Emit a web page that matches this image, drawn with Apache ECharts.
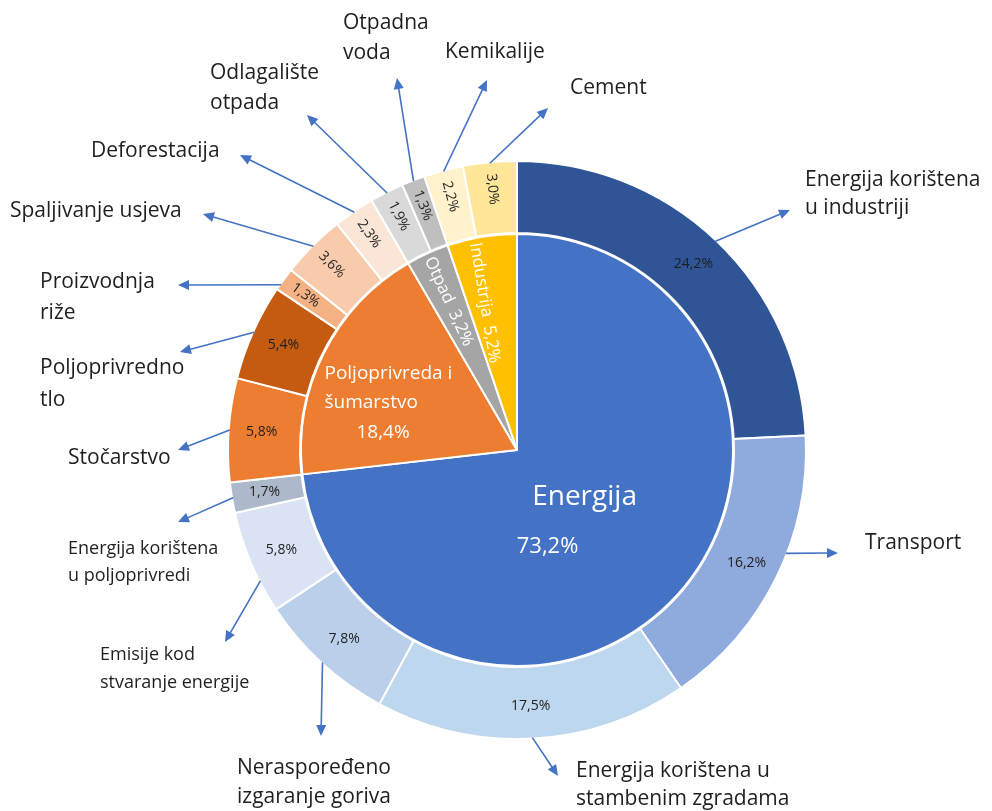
<!DOCTYPE html>
<html><head><meta charset="utf-8">
<script src="https://cdn.jsdelivr.net/npm/echarts@6/dist/echarts.min.js"></script>
<style>html,body{margin:0;padding:0;background:#fff}#c{width:992px;height:811px}</style>
</head><body><div id="c"></div>
<script>
// ---------------- data ----------------
const mainNames = ['Energija', 'Poljoprivreda i šumarstvo', 'Otpad', 'Industrija'];
const mainValues = [73.2, 18.4, 3.2, 5.2];

const subNames = [
  'Energija korištena\nu industriji', 'Transport', 'Energija korištena u\nstambenim zgradama',
  'Neraspoređeno\nizgaranje goriva', 'Emisije kod\nstvaranje energije', 'Energija korištena\nu poljoprivredi',
  'Stočarstvo', 'Poljoprivredno\ntlo', 'Proizvodnja\nriže', 'Spaljivanje usjeva', 'Deforestacija',
  'Odlagalište\notpada', 'Otpadna\nvoda', 'Kemikalije', 'Cement'
];
const subValues = [24.2, 16.2, 17.5, 7.8, 5.8, 1.7, 5.8, 5.4, 1.3, 3.6, 2.3, 1.9, 1.3, 2.2, 3.0];

// ---------------- styles / layout ----------------
const mainColors = ['#4472C4', '#ED7D31', '#A5A5A5', '#FFC000'];
const subColors = ['#2F5597', '#8FAADC', '#BDD7EE', '#B9CFEA', '#DAE3F3', '#ADB9CA',
  '#ED7D31', '#C55A11', '#F4B183', '#F8CBAD', '#FBE5D6', '#D9D9D9', '#BFBFBF', '#FFF2CC', '#FFE699'];
const subRadial = [false, false, false, false, false, false, false, false, true, true, true, true, true, true, true];
const mainRadial = [false, false, true, true];

const CX = 517, CY = 450, R_IN = 216, R_RING0 = 217, R_OUT = 289;
const FONT = 'Open Sans';
const TEXT = '#1f1f1f';

// external label layout: left x, block centre y, font size, line height, arrow tip, anchor fraction in sector
const extLayout = [
  {x: 805, y: 194, fs: 21, lh: 28, tip: [790, 210]},
  {x: 865, y: 543, fs: 21, lh: 28, tip: [838, 553], f: 0.41},
  {x: 576, y: 785, fs: 21, lh: 28, tip: [558, 776]},
  {x: 237, y: 783, fs: 21, lh: 29, tip: [321, 736]},
  {x: 100, y: 669, fs: 18, lh: 28, tip: [225, 642], f: 0.31},
  {x: 68,  y: 562, fs: 18, lh: 27, tip: [178, 522]},
  {x: 68,  y: 458, fs: 21, lh: 28, tip: [178, 450]},
  {x: 40,  y: 384, fs: 21, lh: 32, tip: [180, 352]},
  {x: 40,  y: 298, fs: 21, lh: 31, tip: [178, 285], f: 0.25},
  {x: 10,  y: 211, fs: 21, lh: 28, tip: [203, 214]},
  {x: 91,  y: 151, fs: 21, lh: 28, tip: [240, 155]},
  {x: 210, y: 88,  fs: 21, lh: 30, tip: [307, 115]},
  {x: 343, y: 38,  fs: 21, lh: 30, tip: [397, 78]},
  {x: 445, y: 52,  fs: 21, lh: 28, tip: [487, 80]},
  {x: 570, y: 88,  fs: 21, lh: 28, tip: [548, 108]}
];
// inner label placement: radius fraction, offsets, alignment
const innerLayout = [
  {r: 0.5, dx: -13, dy: 0, align: 'center'},
  {r: 0.5, dx: -96, dy: 2, align: 'left'},
  {r: 0.74, dx: -2, dy: -3, align: 'center'},
  {r: 0.69, dx: -8, dy: 0, align: 'center'}
];
const RADIAL_LABEL_R = 262;

// ---------------- helpers ----------------
const fmt = v => v.toFixed(1).replace('.', ',') + '%';
const sum = a => a.reduce((s, v) => s + v, 0);
function midAngles(values) {
  const t = sum(values); let c = 0;
  return values.map(v => { const m = (c + v / 2) / t * 360; c += v; return m; });
}
function radialRot(deg) { let r = -90 - deg; while (r <= -180) r += 360; while (r > 180) r -= 360; return r; }
const mainMid = midAngles(mainValues);
const subMid = midAngles(subValues);

// ---------------- series data ----------------
const innerData = mainValues.map((v, i) => ({
  value: v, name: mainNames[i], itemStyle: {color: mainColors[i]},
  label: mainRadial[i] ? {rotate: radialRot(mainMid[i])} : {rotate: 0}
}));
const ringData = subValues.map((v, i) => ({
  value: v, name: subNames[i], itemStyle: {color: subColors[i]},
  label: subRadial[i] ? {rotate: radialRot(subMid[i])} : {rotate: 0}
}));
const nameData = subValues.map((v, i) => ({
  value: v, name: subNames[i],
  label: {fontSize: extLayout[i].fs, lineHeight: extLayout[i].lh}
}));

// ---------------- arrows ----------------
const arrowColor = '#4472C4';
const graphics = [];
(function () {
  const t = sum(subValues); let c = 0;
  subValues.forEach((v, i) => {
    const L = extLayout[i];
    const f = L.f == null ? 0.5 : L.f;
    const a = (c + v * f) / t * 2 * Math.PI; c += v;
    const sx = CX + (R_OUT - 1) * Math.sin(a), sy = CY - (R_OUT - 1) * Math.cos(a);
    const tx = L.tip[0], ty = L.tip[1];
    const dx = tx - sx, dy = ty - sy, len = Math.hypot(dx, dy), ux = dx / len, uy = dy / len;
    const hl = 11, hw = 5;
    const bx = tx - ux * hl, by = ty - uy * hl;
    graphics.push({type: 'line', silent: true, z: 10,
      shape: {x1: sx, y1: sy, x2: bx + ux * 2, y2: by + uy * 2},
      style: {stroke: arrowColor, lineWidth: 1.6}});
    graphics.push({type: 'polygon', silent: true, z: 10,
      shape: {points: [[tx, ty], [bx - uy * hw, by + ux * hw], [bx + uy * hw, by - ux * hw]]},
      style: {fill: arrowColor}});
  });
})();

// ---------------- chart ----------------
const chart = echarts.init(document.getElementById('c'), null, {renderer: 'canvas'});
chart.setOption({
  backgroundColor: '#ffffff',
  animation: false,
  graphic: {elements: graphics},
  series: [
    {
      type: 'pie', name: 'inner', center: [CX, CY], radius: [0, R_IN],
      startAngle: 90, clockwise: true, avoidLabelOverlap: false, silent: true,
      itemStyle: {borderColor: '#ffffff', borderWidth: 2},
      label: {
        show: true, position: 'inside', color: '#ffffff', fontFamily: FONT,
        formatter: p => {
          const i = p.dataIndex;
          if (i === 0) return '{a|' + p.name + '}\n{b|' + fmt(p.value) + '}';
          if (i === 1) return '{c|Poljoprivreda i}\n{c|šumarstvo}\n{d|' + fmt(p.value) + '}';
          return '{e|' + p.name + '  ' + fmt(p.value) + '}';
        },
        rich: {
          a: {fontSize: 28, lineHeight: 49, color: '#ffffff', fontFamily: FONT, align: 'center'},
          b: {fontSize: 22, lineHeight: 49, color: '#ffffff', fontFamily: FONT, align: 'center', padding: [0, 74, 0, 0]},
          c: {fontSize: 19, lineHeight: 29, color: '#ffffff', fontFamily: FONT, align: 'left'},
          d: {fontSize: 19, lineHeight: 31, color: '#ffffff', fontFamily: FONT, align: 'left', padding: [0, 0, 0, 32]},
          e: {fontSize: 17, lineHeight: 22, color: '#ffffff', fontFamily: FONT}
        }
      },
      labelLine: {show: false},
      labelLayout: p => {
        const i = p.dataIndex, L = innerLayout[i];
        const a = mainMid[i] * Math.PI / 180, r = R_IN * L.r;
        return {x: CX + r * Math.sin(a) + L.dx, y: CY - r * Math.cos(a) + L.dy, align: L.align, verticalAlign: 'middle'};
      },
      data: innerData
    },
    {
      type: 'pie', name: 'ring', center: [CX, CY], radius: [R_RING0, R_OUT],
      startAngle: 90, clockwise: true, avoidLabelOverlap: false, silent: true,
      itemStyle: {borderColor: '#ffffff', borderWidth: 2},
      label: {show: true, position: 'inside', color: TEXT, fontSize: 14, fontFamily: FONT,
        formatter: p => fmt(p.value)},
      labelLine: {show: false},
      labelLayout: p => {
        const i = p.dataIndex;
        if (!subRadial[i]) return {};
        const a = subMid[i] * Math.PI / 180;
        return {x: CX + RADIAL_LABEL_R * Math.sin(a), y: CY - RADIAL_LABEL_R * Math.cos(a)};
      },
      data: ringData
    },
    {
      type: 'pie', name: 'names', center: [CX, CY], radius: [R_RING0, R_OUT],
      startAngle: 90, clockwise: true, avoidLabelOverlap: false, silent: true, z: 1,
      itemStyle: {color: 'rgba(0,0,0,0)', borderWidth: 0},
      label: {show: true, position: 'outside', color: TEXT, fontFamily: FONT, overflow: 'none',
        align: 'left', formatter: '{b}'},
      labelLine: {show: false},
      labelLayout: p => {
        const L = extLayout[p.dataIndex];
        return {x: L.x, y: L.y, align: 'left', verticalAlign: 'middle'};
      },
      data: nameData
    }
  ]
});
</script>
</body></html>
